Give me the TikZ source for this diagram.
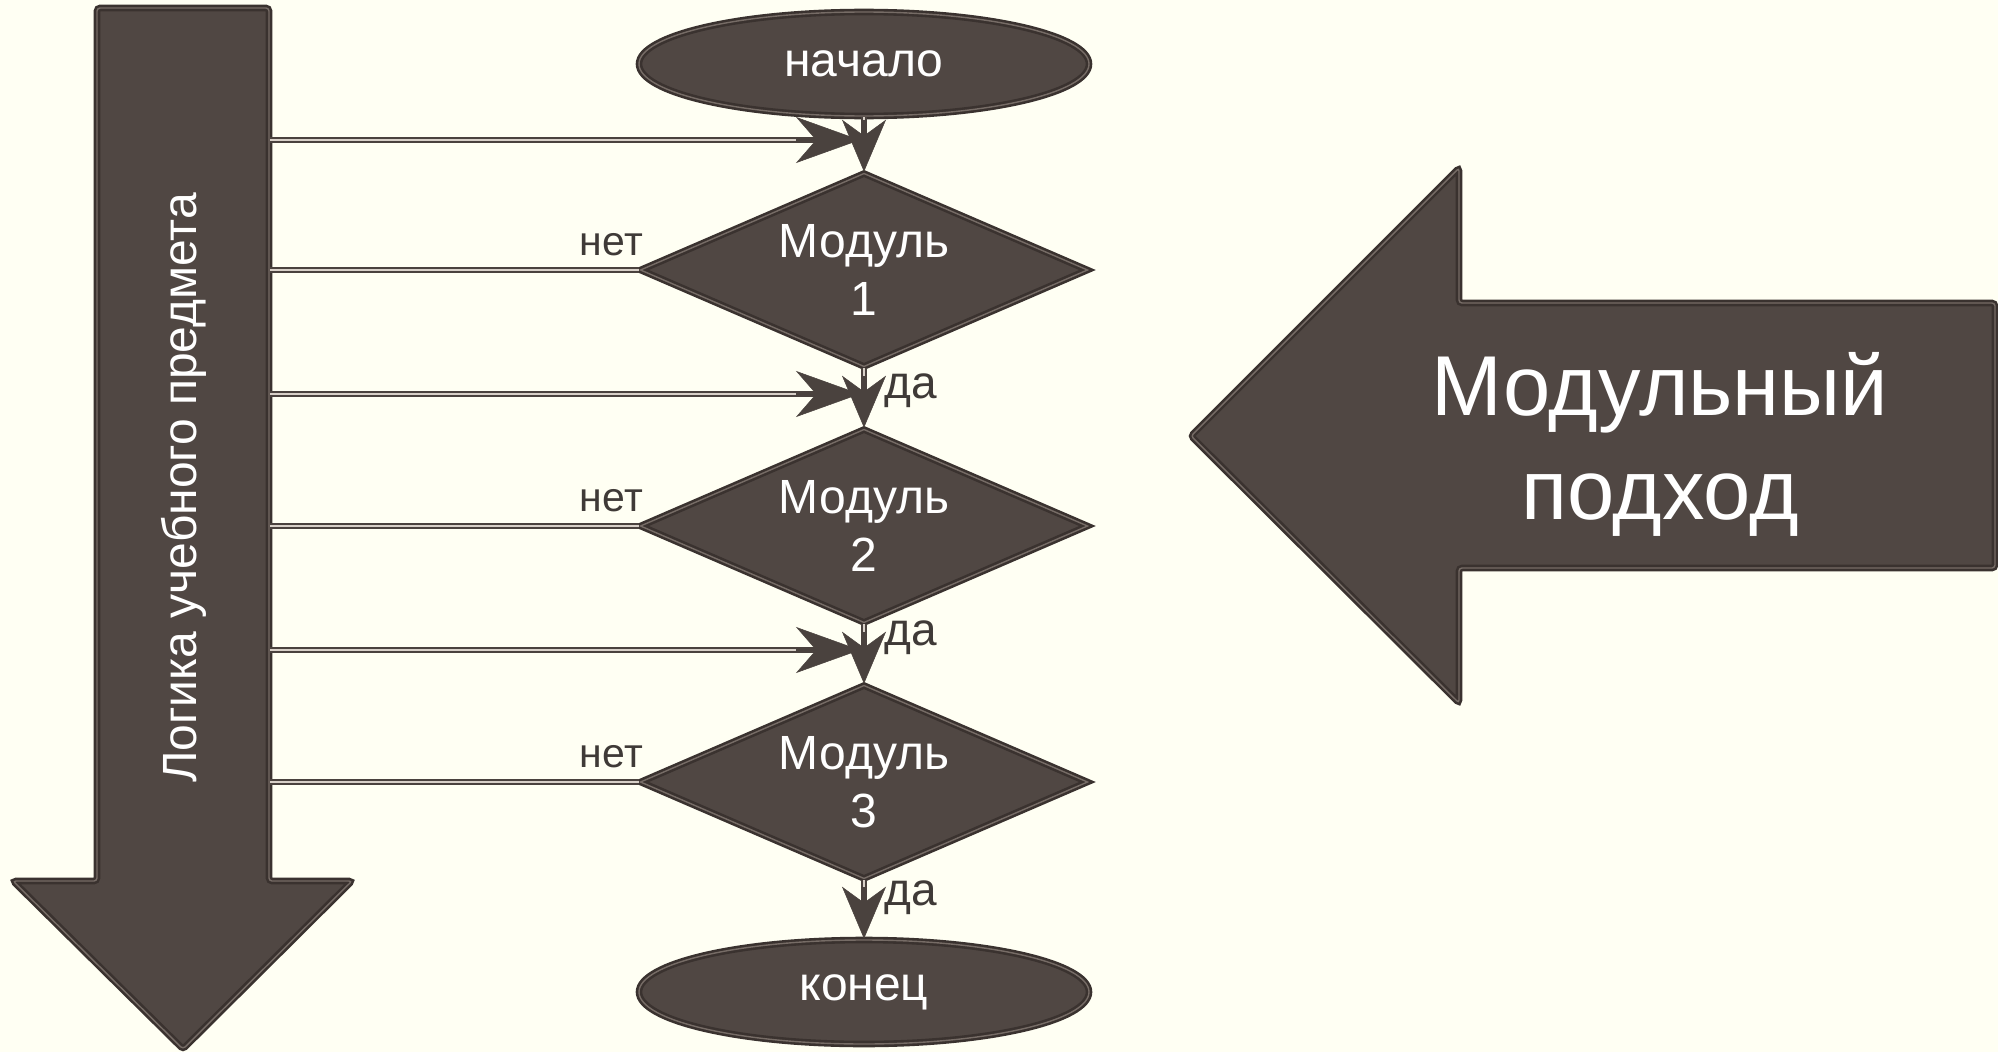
\documentclass[tikz,border=0pt]{standalone}
\usepackage{fontspec}
\setmainfont{Liberation Sans}
\usetikzlibrary{shapes.geometric,arrows.meta}
\definecolor{bg}{HTML}{FFFFF3}
\definecolor{shapefill}{HTML}{504743}
\definecolor{shapeedge}{HTML}{3A322F}
\definecolor{shapeinner}{HTML}{766C66}
\definecolor{conndark}{HTML}{4A423E}
\definecolor{connlight}{HTML}{D8D0C8}
\definecolor{labelcol}{HTML}{3F3A37}
\tikzset{
  shapestyle/.style={fill=shapefill, draw=shapeedge, line width=2.6pt, double=shapeinner, double distance=1.4pt},
  termbox/.style={shapestyle, ellipse, minimum width=450pt, minimum height=104pt, inner sep=0pt,
    text=white, font=\fontsize{48}{58}\selectfont},
  decbox/.style={shapestyle, diamond, aspect=2.3, minimum width=448pt, minimum height=194pt, inner sep=0pt,
    text=white, align=center, font=\fontsize{48}{58}\selectfont},
  conn/.style={draw=conndark, line width=6pt, postaction={draw=connlight, line width=1.4pt}},
  harrow/.style={draw=conndark, line width=6pt,
    -{Stealth[length=64pt,width=46pt,inset=20pt,line width=0.5pt]},
    postaction={draw=connlight, line width=1.4pt, -, shorten >=64pt}},
  varrow/.style={draw=conndark, line width=6pt,
    -{Stealth[length=52pt,width=44pt,inset=16pt,line width=0.5pt]},
    postaction={draw=connlight, line width=1.4pt, -, shorten >=52pt}},
  netlbl/.style={text=labelcol, font=\fontsize{41}{48}\selectfont, inner sep=0pt, anchor=base east},
  dalbl/.style={text=labelcol, font=\fontsize{46}{54}\selectfont, inner sep=0pt, anchor=base west},
  bigtext/.style={text=white, align=center, inner sep=0pt},
}
\begin{document}
\begin{tikzpicture}[x=1pt,y=-1pt]
\useasboundingbox (0,0) rectangle (1998,1052);
\fill[bg] (0,0) rectangle (1998,1052);

% left big arrow
\draw[shapestyle, rounded corners=3pt] (97,8) -- (269,8) -- (269,881) -- (352,881) -- (183,1049) -- (13,881) -- (97,881) -- cycle;
\node[bigtext, rotate=90, font=\fontsize{48}{58}\selectfont] (logic) at (184,488) {Логика учебного предмета};

% right big arrow
\draw[shapestyle, rounded corners=3pt] (1191,436) -- (1459,168) -- (1459,303) -- (1995,303) -- (1995,568) -- (1459,568) -- (1459,703) -- cycle;
\node[bigtext, font=\fontsize{85}{104}\selectfont] (modapp) at (1660,444) {Модульный\\подход};

% shaft connection points
\coordinate (s1) at (270,140);
\coordinate (s2) at (270,270);
\coordinate (s3) at (270,394);
\coordinate (s4) at (270,526);
\coordinate (s5) at (270,650);
\coordinate (s6) at (270,782);
\coordinate (j1) at (860,140);
\coordinate (j2) at (860,394);
\coordinate (j3) at (860,650);

% flowchart nodes
\node[termbox] (start) at (864,64) {начало};
\node[decbox] (d1) at (864,270) {Модуль\\1};
\node[decbox] (d2) at (864,526) {Модуль\\2};
\node[decbox] (d3) at (864,782) {Модуль\\3};
\node[termbox] (end) at (864,992) {конец};

% connectors
\draw[conn] (s2) -- (d1.west);
\draw[conn] (s4) -- (d2.west);
\draw[conn] (s6) -- (d3.west);
\draw[varrow] (start.south) -- (d1.north);
\draw[varrow] (d1.south) -- (d2.north);
\draw[varrow] (d2.south) -- (d3.north);
\draw[varrow] (d3.south) -- (end.north);
\draw[harrow] (s1) -- (j1);
\draw[harrow] (s3) -- (j2);
\draw[harrow] (s5) -- (j3);

% labels
\node[netlbl] (net1) at (643,255) {нет};
\node[netlbl] (net2) at (643,511) {нет};
\node[netlbl] (net3) at (643,767) {нет};
\node[dalbl] (da1) at (884,398) {да};
\node[dalbl] (da2) at (884,645) {да};
\node[dalbl] (da3) at (884,905) {да};
\end{tikzpicture}
\end{document}
